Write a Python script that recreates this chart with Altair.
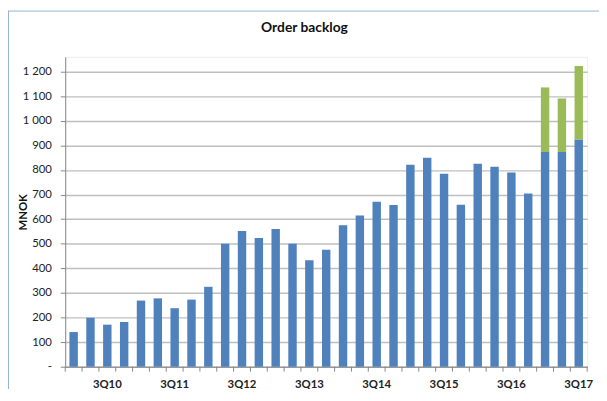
import altair as alt
import pandas as pd

quarters = [f"{q}Q{y:02d}" for y in range(10, 18) for q in range(1, 5)][:31]
backlog = [141, 199, 171, 182, 269, 278, 238, 273, 325, 500, 552, 524, 560, 500,
           433, 476, 575, 615, 671, 658, 821, 850, 785, 659, 826, 813, 790, 705,
           873, 873, 924]
extra = [0] * 28 + [263, 218, 299]
series = ["Backlog", "Additional"]
colors = ["#4f81bd", "#9bbb59"]

rows = []
for q, b, e in zip(quarters, backlog, extra):
    rows.append({"quarter": q, "series": series[0], "value": b, "ord": 0})
    rows.append({"quarter": q, "series": series[1], "value": e, "ord": 1})
df = pd.DataFrame(rows)
ticks_df = pd.DataFrame({"quarter": quarters})

FONT = "Lato"
W, H = 529, 314
STEP = W / len(quarters)
AX = "#868686"

xenc = alt.X("quarter:N", sort=quarters,
             scale=alt.Scale(paddingInner=0.5, paddingOuter=0.25),
             axis=alt.Axis(title=None, ticks=False,
                           domainColor=AX,
                           labelExpr="slice(datum.value,0,2)=='3Q' ? datum.value : ''",
                           labelAngle=0, labelPadding=12, labelFont=FONT,
                           labelFontSize=11.5, labelFontWeight="bold",
                           labelColor="#222222", grid=False))

bars = alt.Chart(df).mark_bar().encode(
    x=xenc,
    y=alt.Y("value:Q", stack="zero",
            scale=alt.Scale(domain=[0, 1260], nice=False),
            axis=alt.Axis(title="MNOK", values=list(range(0, 1300, 100)),
                          labelExpr="datum.value == 0 ? '-\u00a0\u00a0\u00a0' : replace(format(datum.value, ','), ',', ' ')",
                          tickSize=5, tickColor=AX, domainColor=AX,
                          labelPadding=9, labelFont=FONT, labelFontSize=11.5,
                          labelColor="#222222", gridColor="#bfbfbf",
                          gridWidth=1.5, titleFont=FONT, titleFontSize=11.5,
                          titleFontWeight="bold", titleColor="#111111",
                          titlePadding=-6)),
    color=alt.Color("series:N", scale=alt.Scale(domain=series, range=colors),
                    legend=None),
    order=alt.Order("ord:Q"),
)

xticks = alt.Chart(ticks_df).mark_rule(color=AX, strokeWidth=1, xOffset=-STEP * 0.25).encode(
    x=alt.X("quarter:N", sort=quarters, bandPosition=0),
    y=alt.value(H), y2=alt.value(H + 5))
xtick_end = alt.Chart(ticks_df.tail(1)).mark_rule(color=AX, strokeWidth=1, xOffset=STEP * 0.25).encode(
    x=alt.X("quarter:N", sort=quarters, bandPosition=1),
    y=alt.value(H), y2=alt.value(H + 5))

frame_left = alt.Chart(ticks_df.head(1)).mark_rule(color="#95b3d7").encode(
    x=alt.value(-57.5), y=alt.value(-47), y2=alt.value(340))
frame_top = alt.Chart(ticks_df.head(1)).mark_rule(color="#95b3d7").encode(
    x=alt.value(-57.5), x2=alt.value(545), y=alt.value(-46.5))

chart = alt.layer(bars, xticks, xtick_end, frame_left, frame_top).properties(
    width=W, height=H,
    title=alt.TitleParams("Order backlog", font=FONT, fontSize=14,
                          fontWeight="bold", color="#111111",
                          anchor="middle", dx=-22, offset=-25),
    autosize=alt.AutoSizeParams(type="none"),
    padding={"left": 58, "top": 47, "right": 12, "bottom": 20},
).configure_view(stroke="#eeeeee")

chart.save("out.html", embed_options={"renderer": "svg", "actions": False})
